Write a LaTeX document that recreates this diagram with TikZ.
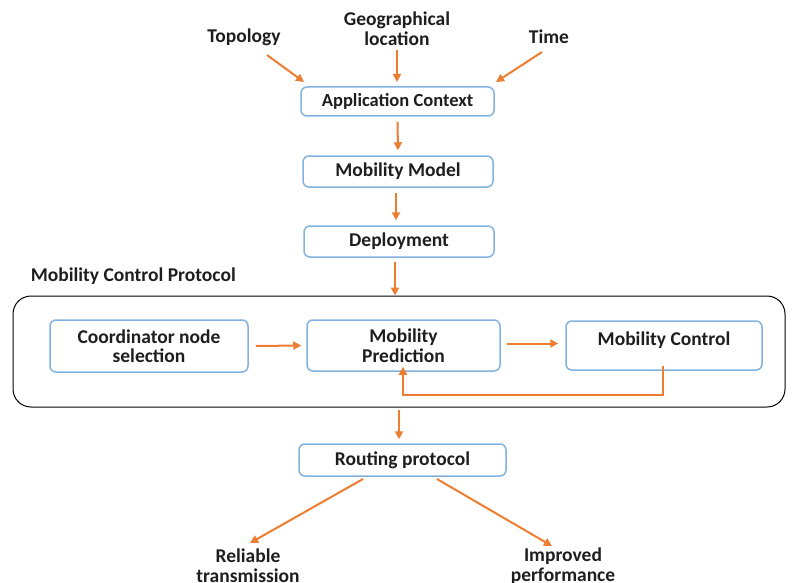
\documentclass[tikz,border=0pt]{standalone}
\usepackage{fontspec}
\setmainfont{Carlito}
\usetikzlibrary{arrows.meta}
\definecolor{arr}{RGB}{237,125,49}
\definecolor{edge}{RGB}{130,178,224}
\definecolor{txt}{RGB}{30,30,30}
\begin{document}
\begin{tikzpicture}[x=1pt,y=-1pt,line width=.9pt,
    box/.style={draw=edge,line width=1.5pt,rounded corners=6pt,fill=white,text=txt,align=center,font=\bfseries\fontsize{19.5}{19.5}\selectfont},
    lbl/.style={text=txt,align=center,font=\bfseries\fontsize{19.5}{20}\selectfont},
    flow/.style={draw=arr,line width=2pt,-{Triangle[length=8pt,width=8pt]}}]
      \useasboundingbox (0,0) rectangle (792,583);

      \node[draw=black,rounded corners=18pt,line width=1pt,minimum width=772pt,minimum height=111pt] (MCP) at (399,351.5) {};
      \node[lbl,anchor=west] (T) at (27,276) {Mobility Control Protocol};

      \node[lbl] (I0) at (244,37) {Topology};
      \node[lbl] (I1) at (397,29) {Geographical\\location};
      \node[lbl] (I2) at (549,37) {Time};

      \node[box,minimum width=193pt,minimum height=29pt,font=\bfseries\fontsize{18.5}{19}\selectfont] (A) at (397.5,101.5) {Application Context};
      \node[box,minimum width=190pt,minimum height=31pt] (B) at (398,171.5) {Mobility Model};
      \node[box,minimum width=190pt,minimum height=31pt] (C) at (399,241.5) {Deployment};

      \node[box,minimum width=198pt,minimum height=52pt] (P0) at (149,346) {Coordinator node\\selection};
      \node[box,minimum width=193pt,minimum height=51pt] (P1) at (403.5,345.5) {Mobility\\Prediction};
      \node[box,minimum width=196pt,minimum height=49pt,text depth=14pt] (P2) at (664,345.5) {Mobility Control};

      \node[box,minimum width=207pt,minimum height=32pt] (R) at (402.5,460) {Routing protocol};
      \node[lbl] (O0) at (248,566) {Reliable\\transmission};
      \node[lbl] (O1) at (563,566) {Improved\\performance};

      \coordinate (a0) at (267,55);
      \coordinate (a1) at (542,52);
      \coordinate (u) at (395,262);
      \coordinate (v) at (399,410);

      \draw[flow] (a0) -- (304,82);
      \draw[flow] (397,50) -- (397,82);
      \draw[flow] (a1) -- (496,82);
      \draw[flow] ([yshift=-5pt]A.south) -- ([yshift=5pt]B.north);
      \draw[flow] ([xshift=-2pt,yshift=-5pt]B.south) -- ([xshift=-3pt,yshift=5pt]C.north);
      \draw[flow] (u) -- (MCP.north -| u);
      \draw[flow] ([xshift=7pt]P0.east) -- ([xshift=-5pt]P1.west);
      \draw[flow] ([xshift=6pt,yshift=2pt]P1.east) -- ([xshift=-7pt,yshift=2pt]P2.west);
      \draw[flow] ([yshift=5pt]P2.south -| 663,0) -- (663,395) -- (403,395) -- ([yshift=5pt]P1.south -| 403,0);
      \draw[flow] (v) -- ([yshift=4pt]R.north -| v);
      \draw[flow] (363,479) -- (250,543);
      \draw[flow] (437,479) -- (552,546);
    \end{tikzpicture}
\end{document}
